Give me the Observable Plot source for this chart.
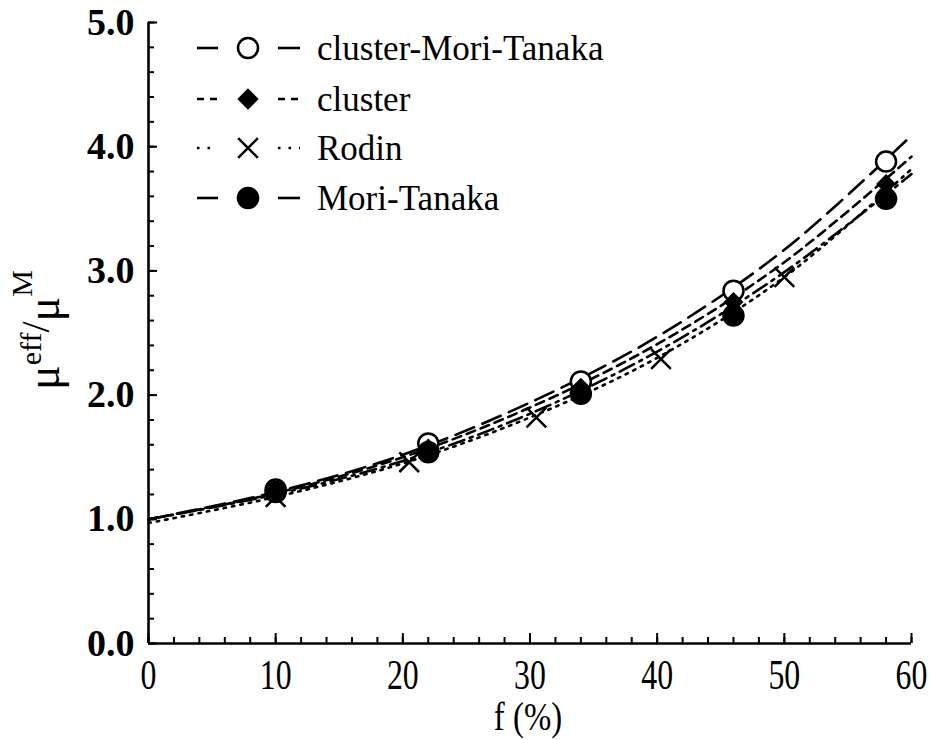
<!DOCTYPE html>
<html><head><meta charset="utf-8">
<script src="https://cdn.jsdelivr.net/npm/d3@7"></script>
<script src="https://cdn.jsdelivr.net/npm/@observablehq/plot@0.6"></script>
<style>body{margin:0;background:#fff}</style>
</head><body><div id="chart"></div>
<script>
// ---- data ----
const fLine = [0, 10, 20, 30, 40, 50, 60];
const clusterMTLine = [1.00, 1.22, 1.52, 1.94, 2.47, 3.17, 4.09];
const clusterLine   = [1.00, 1.21, 1.50, 1.90, 2.41, 3.07, 3.92];
const rodinLine     = [0.97, 1.18, 1.45, 1.82, 2.30, 2.95, 3.82];
const moriTanakaLine= [1.00, 1.20, 1.47, 1.85, 2.35, 2.99, 3.78];

const fMarkers = [10, 22, 34, 46, 58];
const clusterMTPts  = [1.24, 1.61, 2.11, 2.84, 3.88];
const clusterPts    = [1.23, 1.57, 2.06, 2.75, 3.70];
const moriTanakaPts = [1.22, 1.54, 2.01, 2.64, 3.58];
const fRodin   = [10, 20.5, 30.5, 40.3, 50];
const rodinPts = [1.18, 1.46, 1.82, 2.29, 2.95];

const xMajor = [0, 10, 20, 30, 40, 50, 60];
const xMinor = d3.range(0, 61, 2);
const yMajor = [0, 1, 2, 3, 4, 5];
const yMinor = d3.range(0, 5.01, 0.2);

const legendNames = ["cluster-Mori-Tanaka", "cluster", "Rodin", "Mori-Tanaka"];

// ---- styles ----
const styles = {
  "cluster-Mori-Tanaka": {dash: "20,9", symbol: "circle", fill: "white", legendDash: null, r: 10},
  "cluster": {dash: "9,6", symbol: "diamond2", fill: "black", legendDash: "7,6", r: 8},
  "Rodin": {dash: "2.5,6", symbol: "times", fill: "none", legendDash: "2.5,8", r: 9},
  "Mori-Tanaka": {dash: "16,6,3,6", symbol: "circle", fill: "black", legendDash: null, r: 10}
};

const toRows = (xs, ys) => xs.map((x, i) => ({x, y: ys[i]}));
const lines = {
  "cluster-Mori-Tanaka": toRows(fLine, clusterMTLine),
  "cluster": toRows(fLine, clusterLine),
  "Rodin": toRows(fLine, rodinLine),
  "Mori-Tanaka": toRows(fLine, moriTanakaLine)
};

const serif = "'Liberation Serif', 'Times New Roman', serif";

const plot = Plot.plot({
  width: 933, height: 740,
  marginLeft: 148, marginRight: 22, marginTop: 22, marginBottom: 97,
  x: {domain: [0, 60]},
  y: {domain: [0, 5]},
  style: {fontFamily: serif, background: "white", color: "black"},
  marks: [
    ...legendNames.map(n => Plot.line(lines[n], {x: "x", y: "y", curve: "catmull-rom", stroke: "black", strokeWidth: 2.6, strokeDasharray: styles[n].dash})),
    Plot.dot(toRows(fRodin, rodinPts), {x: "x", y: "y", symbol: "times", r: 9, stroke: "black", strokeWidth: 2.5}),
    Plot.dot(toRows(fMarkers, clusterMTPts), {x: "x", y: "y", r: 10, fill: "white", stroke: "black", strokeWidth: 2.5}),
    Plot.dot(toRows(fMarkers, clusterPts), {x: "x", y: "y", symbol: "diamond2", r: 8, fill: "black", stroke: "black"}),
    Plot.dot(toRows(fMarkers, moriTanakaPts), {x: "x", y: "y", r: 10.5, fill: "black", stroke: "black"}),
    Plot.axisX({ticks: xMinor, tickSize: -6, text: null, strokeWidth: 2, label: null}),
    Plot.axisX({ticks: xMajor, tickSize: -10, text: null, strokeWidth: 2, label: null}),
    Plot.axisX({ticks: xMajor, tickSize: 0, tickPadding: 15, tickFormat: d => String(d), label: null, fontSize: 43}),
    Plot.axisY({ticks: yMinor, tickSize: -6, text: null, strokeWidth: 2, label: null}),
    Plot.axisY({ticks: yMajor, tickSize: -9, text: null, strokeWidth: 2, label: null}),
    Plot.axisY({ticks: yMajor, tickSize: 0, tickPadding: 14, tickFormat: d => d.toFixed(1), label: null, fontSize: 38, fontWeight: "bold"}),
    Plot.ruleX([0], {strokeWidth: 2.6}),
    Plot.ruleY([0], {strokeWidth: 2.6})
  ]
});

document.getElementById("chart").appendChild(plot);
const svg = d3.select(plot);

// condense x tick labels around their own anchor point (tall narrow digits like the reference)
svg.selectAll('g[aria-label="x-axis tick label"] text').each(function () {
  const t = d3.select(this);
  const x = +t.attr("x") || 0, y = +t.attr("y") || 0;
  const tr = t.attr("transform") || "";
  t.attr("transform", `${tr} translate(${x},${y}) scale(0.74,1) translate(${-x},${-y})`);
});

// x label
svg.append("text").attr("x", 528).attr("y", 730).attr("text-anchor", "middle")
  .attr("font-family", serif).attr("font-size", 40).attr("fill", "black")
  .attr("transform", "translate(528,0) scale(0.82,1) translate(-528,0)")
  .text("f (%)");

// y label: μ^eff / μ^M
const yl = svg.append("text").attr("transform", "translate(59,330) rotate(-90)")
  .attr("text-anchor", "middle").attr("font-family", serif).attr("fill", "black").attr("font-size", 46);
yl.append("tspan").text("μ");
yl.append("tspan").attr("font-size", 30).attr("dy", -18).text("eff");
yl.append("tspan").attr("font-size", 40).attr("dy", 8).text("/");
yl.append("tspan").attr("font-size", 46).attr("dy", 10).text("μ");
yl.append("tspan").attr("font-size", 30).attr("dy", -27).text("M");

// legend
const rowsY = [48, 99, 148, 198];
const symMap = {circle: d3.symbolCircle, diamond2: d3.symbolDiamond2, times: d3.symbolTimes};
const lg = svg.append("g").attr("aria-label", "legend");
legendNames.forEach((n, i) => {
  const st = styles[n];
  const y = rowsY[i];
  const g = lg.append("g");
  [[197, 218], [278, 300]].forEach(([a, b]) =>
    g.append("line").attr("x1", a).attr("x2", b).attr("y1", y).attr("y2", y)
      .attr("stroke", "black").attr("stroke-width", 2.6).attr("stroke-dasharray", st.legendDash));
  g.append("path").attr("transform", `translate(248,${y})`)
    .attr("d", d3.symbol(symMap[st.symbol], Math.PI * st.r * st.r)())
    .attr("fill", st.fill).attr("stroke", "black").attr("stroke-width", 2.5);
  g.append("text").attr("x", 317).attr("y", y).attr("dy", "0.33em").attr("text-anchor", "start")
    .attr("font-family", serif).attr("font-size", 35).attr("fill", "black").text(n);
});
</script>
</body></html>
